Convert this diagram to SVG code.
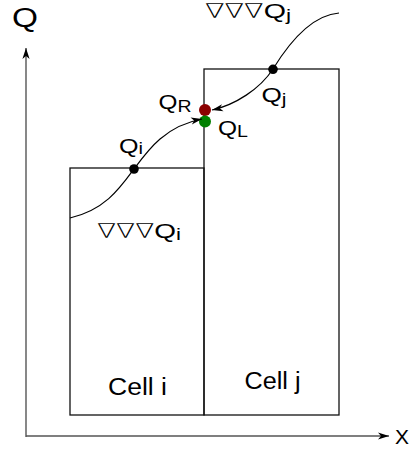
<svg xmlns="http://www.w3.org/2000/svg" width="409" height="452" viewBox="0 0 409 452">
<style>
text{font-family:"Liberation Sans","DejaVu Sans",Arial,sans-serif;fill:#000}
.nab{font-family:"DejaVu Sans",sans-serif;font-weight:200}
.cell{fill:none;stroke:#111;stroke-width:1.3}
.axis{fill:none;stroke:#555;stroke-width:1.4}
.curve{fill:none;stroke:#000;stroke-width:1.2}
.pt{fill:#000}
</style>
<defs>
<marker id="ah" markerUnits="userSpaceOnUse" markerWidth="14" markerHeight="10" viewBox="-12 -5 14 10" refX="0" refY="0" orient="auto">
<path d="M0,0 L-11,-3.6 L-8,0 L-11,3.6 Z" fill="#000"/>
</marker>
</defs>
<rect width="409" height="452" fill="#fff"/>
<g id="cell-i">
<rect class="cell" x="70" y="168" width="134" height="247"/>
<text x="108" y="394.5" font-size="23" textLength="59" lengthAdjust="spacingAndGlyphs">Cell i</text>
</g>
<g id="cell-j">
<rect class="cell" x="204" y="69" width="135" height="346"/>
<text x="244.5" y="388.5" font-size="23" textLength="56" lengthAdjust="spacingAndGlyphs">Cell j</text>
</g>
<g id="axes">
<path class="axis" d="M26,437 L26,48" marker-end="url(#ah)"/>
<path class="axis" d="M26,436 L389,436" marker-end="url(#ah)"/>
<text x="12" y="26.5" font-size="27" textLength="26" lengthAdjust="spacingAndGlyphs">Q</text>
<text x="395" y="444" font-size="21" textLength="14" lengthAdjust="spacingAndGlyphs">X</text>
</g>
<g id="point-QR">
<circle cx="205" cy="110" r="6" fill="#8b0000"/>
<text x="158.5" y="109" font-size="20" textLength="33" lengthAdjust="spacingAndGlyphs">Q<tspan font-size="16" dy="2.5">R</tspan></text>
</g>
<g id="point-QL">
<circle cx="205" cy="121.5" r="6" fill="#008000"/>
<text x="218" y="135" font-size="20" textLength="30" lengthAdjust="spacingAndGlyphs">Q<tspan font-size="16" dy="2">L</tspan></text>
</g>
<g id="connectors">
<path class="curve" d="M70,218 C105,210 120,188 134,169 C148,150 165,126 202,119" marker-end="url(#ah)"/>
<path class="curve" d="M339,13 C314,15 292,38 273,69 C260,89 235,105 212,110" marker-end="url(#ah)"/>
</g>
<g id="point-Qi">
<circle class="pt" cx="134" cy="169" r="4.8"/>
<text x="119" y="152.5" font-size="20" textLength="24" lengthAdjust="spacingAndGlyphs">Q<tspan font-size="16" dy="1.5">i</tspan></text>
<text x="97" y="238" font-size="20" textLength="84" lengthAdjust="spacingAndGlyphs"><tspan class="nab">∇∇∇</tspan>Q<tspan font-size="16" dy="2">i</tspan></text>
</g>
<g id="point-Qj">
<circle class="pt" cx="273" cy="69.3" r="4.8"/>
<text x="261.5" y="101.5" font-size="20" textLength="25" lengthAdjust="spacingAndGlyphs">Q<tspan font-size="16" dy="3">j</tspan></text>
<text x="205" y="17.5" font-size="20" textLength="86" lengthAdjust="spacingAndGlyphs"><tspan class="nab">∇∇∇</tspan>Q<tspan font-size="16" dy="3.5">j</tspan></text>
</g>
</svg>
